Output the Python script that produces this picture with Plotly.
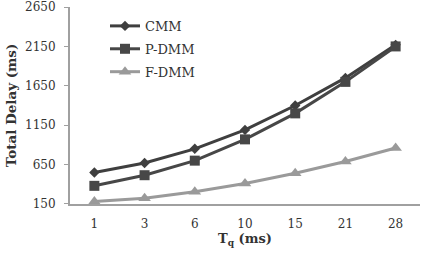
import plotly.graph_objects as go

categories = ["1", "3", "6", "10", "15", "21", "28"]
cmm = [550, 670, 850, 1090, 1400, 1750, 2170]
p_dmm = [380, 515, 700, 970, 1300, 1700, 2150]
f_dmm = [180, 222, 305, 410, 540, 690, 860]
y_ticks = [150, 650, 1150, 1650, 2150, 2650]

FONT = "DejaVu Serif"

fig = go.Figure()
fig.add_trace(go.Scatter(x=categories, y=cmm, name="CMM", mode="lines+markers",
                         legendgroup="a",
                         line=dict(color="#3f3f3f", width=3),
                         marker=dict(symbol="diamond", size=8, color="#3f3f3f")))
fig.add_trace(go.Scatter(x=categories, y=p_dmm, name="P-DMM", mode="lines+markers",
                         legendgroup="b",
                         line=dict(color="#474747", width=3),
                         marker=dict(symbol="square", size=10, color="#474747")))
fig.add_trace(go.Scatter(x=categories, y=f_dmm, name="F-DMM", mode="lines+markers",
                         legendgroup="c",
                         line=dict(color="#9a9a9a", width=3),
                         marker=dict(symbol="triangle-up", size=11, color="#9a9a9a")))

fig.update_layout(
    width=423, height=254,
    margin=dict(l=70, r=3, t=7, b=50, autoexpand=False),
    paper_bgcolor="white", plot_bgcolor="white",
    font=dict(family=FONT, size=12, color="#333333"),
    showlegend=True,
    legend=dict(x=0.1, y=0.98, xanchor="left", yanchor="top",
                bgcolor="rgba(0,0,0,0)", font=dict(size=13, color="#333333"),
                traceorder="grouped", tracegroupgap=3, itemwidth=30),
    xaxis=dict(type="category", showgrid=False, showline=True, linecolor="#a0a0a0",
               linewidth=2, ticks="", tickfont=dict(size=12), ticklabelstandoff=8,
               title=dict(text="<b>T<sub>q</sub> (ms)</b>", font=dict(size=13), standoff=3)),
    yaxis=dict(range=[149.5, 2650.5], tickvals=y_ticks, showgrid=False, zeroline=False,
               showline=True, linecolor="#a0a0a0", linewidth=2, ticks="outside",
               ticklen=4, tickcolor="#a0a0a0", tickfont=dict(size=12), ticklabelstandoff=6,
               ticklabeloverflow="allow",
               title=dict(text="<b>Total Delay (ms)</b>", font=dict(size=13.5), standoff=5)),
)

fig.write_html("out.html")
